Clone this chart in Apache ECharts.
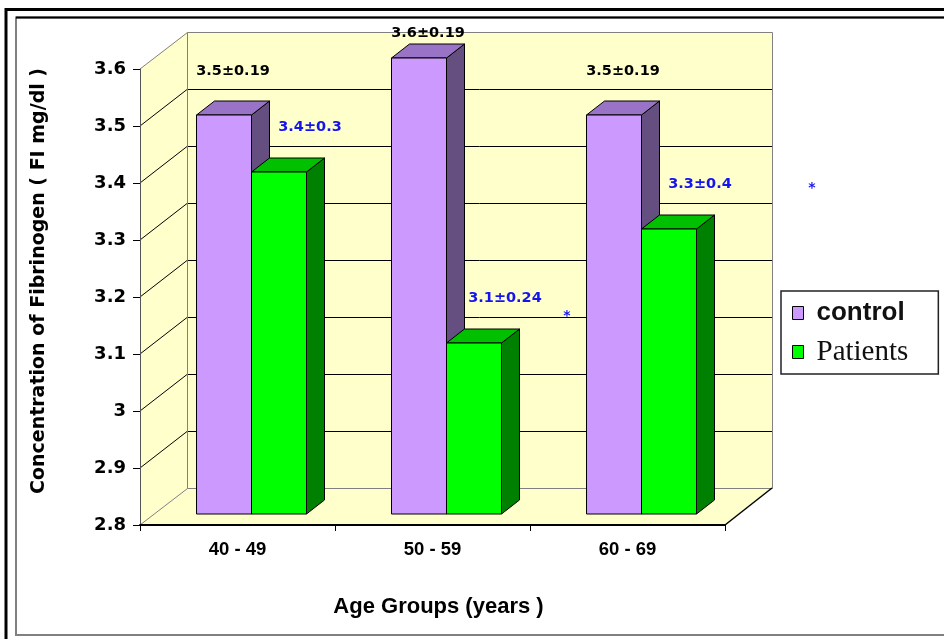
<!DOCTYPE html>
<html>
<head>
<meta charset="utf-8">
<script src="https://cdn.jsdelivr.net/npm/echarts@6/dist/echarts.min.js"></script>
<style>
  html, body { margin: 0; padding: 0; background: #fff; }
  #chart { width: 944px; height: 639px; }
</style>
</head>
<body>
<div id="chart"></div>
<script>
// Fibrinogen concentration by age group (mean ± SD)
const ageGroups   = ['40 - 49', '50 - 59', '60 - 69'];
const controlMean = [3.5, 3.6, 3.5];
const controlSD   = [0.19, 0.19, 0.19];
const patientMean = [3.4, 3.1, 3.3];
const patientSD   = [0.3, 0.24, 0.4];
const yMin = 2.8, yMax = 3.6, yStep = 0.1;

// 3-D box geometry (pixels)
const WALL_DX = 47, WALL_DY = -37;   // depth of the chart box
const PLANE_DX = 14, PLANE_DY = -11; // bar row sits behind the front plane
const BAR_DX = 18, BAR_DY = -14;     // depth of each column
const BAR_FRAC = 0.282;              // column width as share of a category band

const WALL = '#FFFFCC';
const EDGE = '#808080';
const FONT = '"Liberation Sans", Arial, sans-serif';
const WIDE = '"DejaVu Sans", Verdana, sans-serif';

const palette = {
  control:  { front: '#CC99FF', top: '#9973C6', side: '#654E80' },
  patients: { front: '#00FF00', top: '#00C000', side: '#008000' }
};

const crisp = v => Math.round(v) + 0.5;

function renderWalls(params, api) {
  const cs = params.coordSys;
  const x0 = cs.x, x1 = cs.x + cs.width, yT = cs.y, yB = cs.y + cs.height;
  const kids = [];
  // side wall, back wall, floor
  kids.push({ type: 'polygon', shape: { points: [[x0, yT], [x0 + WALL_DX, yT + WALL_DY], [x0 + WALL_DX, yB + WALL_DY], [x0, yB]] }, style: { fill: WALL } });
  kids.push({ type: 'rect', shape: { x: x0 + WALL_DX, y: yT + WALL_DY, width: cs.width, height: cs.height }, style: { fill: WALL } });
  kids.push({ type: 'polygon', shape: { points: [[x0, yB], [x0 + WALL_DX, yB + WALL_DY], [x1 + WALL_DX, yB + WALL_DY], [x1, yB]] }, style: { fill: WALL } });
  // gridlines across side and back walls
  const n = Math.round((yMax - yMin) / yStep);
  for (let k = 1; k < n; k++) {
    const y = api.coord([0, yMin + k * yStep])[1];
    const yb = crisp(y + WALL_DY);
    kids.push({ type: 'polyline', shape: { points: [[x0, y], [x0 + WALL_DX, yb], [x1 + WALL_DX, yb]] }, style: { stroke: '#000', lineWidth: 1, fill: null } });
  }
  // box edges
  const bx0 = crisp(x0 + WALL_DX), bx1 = crisp(x1 + WALL_DX), byT = crisp(yT + WALL_DY), byB = crisp(yB + WALL_DY);
  kids.push({ type: 'polyline', shape: { points: [[x0, yT], [bx0, byT], [bx1, byT], [bx1, byB], [bx0, byB], [x0, yB]] }, style: { stroke: EDGE, lineWidth: 1, fill: null } });
  kids.push({ type: 'line', shape: { x1: bx0, y1: byT, x2: bx0, y2: byB }, style: { stroke: EDGE, lineWidth: 1 } });
  kids.push({ type: 'line', shape: { x1: x1, y1: yB, x2: x1 + WALL_DX, y2: yB + WALL_DY }, style: { stroke: '#000', lineWidth: 1.5 } });
  return { type: 'group', children: kids };
}

function makeColumnRenderer(which) {
  const col = palette[which];
  const isControl = which === 'control';
  return function (params, api) {
    const i = api.value(0), v = api.value(1), sd = api.value(2);
    const band = api.size([1, 0])[0];
    const w = band * BAR_FRAC;
    const base = api.coord([i, yMin]);
    const top = api.coord([i, v])[1] + PLANE_DY;
    const bot = base[1] + PLANE_DY;
    const xl = base[0] + PLANE_DX + (isControl ? -w : 0);
    const xr = xl + w;
    const stroke = { stroke: '#000', lineWidth: 1 };
    const kids = [
      { type: 'polygon', shape: { points: [[xr, top], [xr + BAR_DX, top + BAR_DY], [xr + BAR_DX, bot + BAR_DY], [xr, bot]] }, style: Object.assign({ fill: col.side }, stroke) },
      { type: 'polygon', shape: { points: [[xl, top], [xl + BAR_DX, top + BAR_DY], [xr + BAR_DX, top + BAR_DY], [xr, top]] }, style: Object.assign({ fill: col.top }, stroke) },
      { type: 'rect', shape: { x: xl, y: top, width: w, height: bot - top }, style: Object.assign({ fill: col.front }, stroke) }
    ];
    // mean ± SD label
    const ceiling = params.coordSys.y + WALL_DY + 1;
    const topBack = top + BAR_DY;
    const lx = isControl ? (xl + xr) / 2 + BAR_DX / 2 : (xl + xr) / 2 + 31;
    const ly = isControl ? Math.max(topBack - 30, ceiling) : topBack - 31;
    kids.push({
      type: 'text', z2: 10,
      style: {
        text: v + '\u00B1' + sd, x: lx, y: ly, align: 'center', verticalAlign: 'middle',
        fontFamily: WIDE, fontWeight: 'bold', fontSize: 14.5,
        fill: isControl ? '#000' : '#1414F0'
      }
    });
    return { type: 'group', children: kids };
  };
}

const controlData = ageGroups.map((g, i) => [i, controlMean[i], controlSD[i]]);
const patientData = ageGroups.map((g, i) => [i, patientMean[i], patientSD[i]]);

const chart = echarts.init(document.getElementById('chart'));
chart.setOption({
  animation: false,
  backgroundColor: '#fff',
  grid: { left: 140, top: 69, width: 585, height: 456, outerBoundsMode: 'none' },
  legend: {
    orient: 'vertical', left: 781, top: 291,
    padding: [5, 30, 5, 11], itemGap: 5,
    itemWidth: 11, itemHeight: 13,
    backgroundColor: '#fff', borderColor: '#222', borderWidth: 1.5,
    icon: 'rect',
    itemStyle: { borderColor: '#000', borderWidth: 1 },
    data: [
      { name: 'control', textStyle: { fontFamily: FONT, fontWeight: 'bold', fontSize: 26, color: '#111', lineHeight: 34, padding: [0, 0, 0, 8] } },
      { name: 'Patients', textStyle: { fontFamily: '"Liberation Serif", "Times New Roman", serif', fontWeight: 'normal', fontSize: 29, color: '#111', lineHeight: 34, padding: [0, 0, 0, 8] } }
    ]
  },
  xAxis: {
    type: 'category', data: ageGroups, z: 5,
    axisLine: { lineStyle: { color: '#000', width: 2 } },
    axisTick: { show: true, length: 6, lineStyle: { color: '#000', width: 1 } },
    axisLabel: { margin: 15, fontFamily: FONT, fontWeight: 'bold', fontSize: 18.5, color: '#000' },
    splitLine: { show: false },
    name: 'Age Groups (years )', nameLocation: 'middle', nameGap: 71,
    nameTextStyle: { fontFamily: FONT, fontWeight: 'bold', fontSize: 22, color: '#000', padding: [0, 0, 0, 12] }
  },
  yAxis: {
    type: 'value', min: yMin, max: yMax, interval: yStep, z: 5,
    axisLine: { show: true, lineStyle: { color: '#555', width: 1 } },
    axisTick: { show: true, length: 7, lineStyle: { color: '#000', width: 1 } },
    axisLabel: { margin: 14, fontFamily: WIDE, fontWeight: 'bold', fontSize: 18, color: '#000', formatter: v => String(+v.toFixed(1)) },
    splitLine: { show: false },
    name: 'Concentration of Fibrinogen ( FI mg/dl )', nameLocation: 'middle', nameGap: 91,
    nameTextStyle: { fontFamily: WIDE, fontWeight: 'bold', fontSize: 19, color: '#000', padding: [0, 0, 0, 32] }
  },
  series: [
    { type: 'custom', name: 'walls', silent: true, clip: false, z: 1, renderItem: renderWalls, data: [[0, yMin]] },
    { type: 'custom', name: 'control', clip: false, z: 2, itemStyle: { color: palette.control.front }, renderItem: makeColumnRenderer('control'), data: controlData },
    { type: 'custom', name: 'Patients', clip: false, z: 3, itemStyle: { color: palette.patients.front }, renderItem: makeColumnRenderer('patients'), data: patientData }
  ],
  graphic: [
    // double frame around the figure
    { type: 'rect', z: 100, shape: { x: 6, y: 9.5, width: 1000, height: 700 }, style: { fill: null, stroke: '#000', lineWidth: 3 } },
    { type: 'rect', z: 100, shape: { x: 16, y: 17.5, width: 1000, height: 617.5 }, style: { fill: null, stroke: '#808080', lineWidth: 2 } },
    { type: 'line', z: 101, shape: { x1: 16, y1: 17.5, x2: 944, y2: 17.5 }, style: { stroke: '#000', lineWidth: 2 } },
    // significance asterisks
    { type: 'text', z: 50, x: 567, y: 316, style: { text: '*', align: 'center', verticalAlign: 'middle', fontFamily: WIDE, fontWeight: 'bold', fontSize: 14, fill: '#1414F0' } },
    { type: 'text', z: 50, x: 812, y: 188, style: { text: '*', align: 'center', verticalAlign: 'middle', fontFamily: WIDE, fontWeight: 'bold', fontSize: 14, fill: '#1414F0' } }
  ]
});
</script>
</body>
</html>
